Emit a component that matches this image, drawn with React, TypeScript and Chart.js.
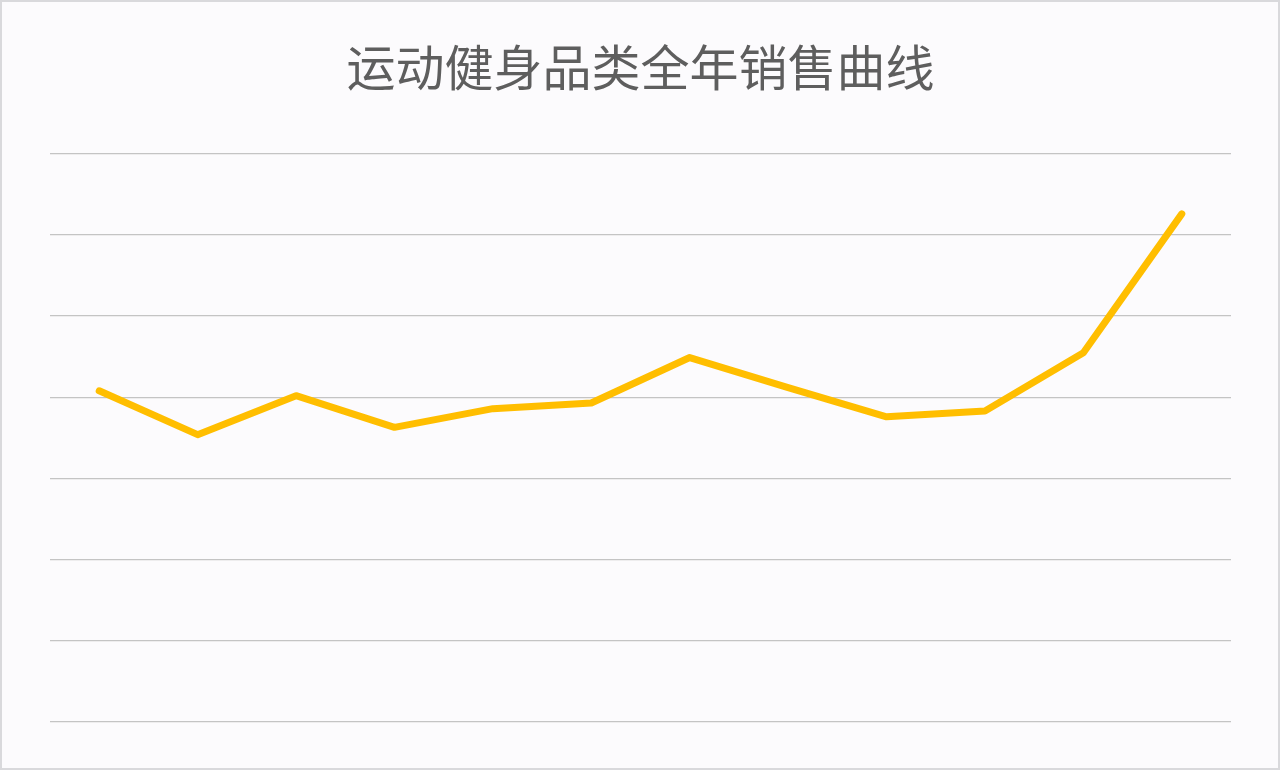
import { useEffect, useRef } from "react"
import { Chart, registerables } from "chart.js"

Chart.register(...registerables)

// months (not shown on the chart, but one point each)
const months = ["1月", "2月", "3月", "4月", "5月", "6月", "7月", "8月", "9月", "10月", "11月", "12月"]
// sales values
const sales = [4.08, 3.54, 4.02, 3.63, 3.86, 3.93, 4.49, 4.12, 3.76, 3.83, 4.55, 6.26]
const yMin = 0
const yMax = 7

export default function App() {
  const chartRef = useRef<HTMLCanvasElement>(null)
  const chartInstance = useRef<Chart | null>(null)

  useEffect(() => {
    if (!chartRef.current) return
    if (chartInstance.current) chartInstance.current.destroy()

    const ctx = chartRef.current.getContext("2d")
    if (!ctx) return

    chartInstance.current = new Chart(ctx, {
      type: "line",
      data: {
        labels: months,
        datasets: [
          {
            label: "销售",
            data: sales,
            borderColor: "#FFBE00",
            borderWidth: 7,
            borderCapStyle: "round",
            borderJoinStyle: "round",
            pointRadius: 0,
            fill: false,
            tension: 0,
          },
        ],
      },
      options: {
        responsive: true,
        maintainAspectRatio: false,
        animation: false,
        layout: {
          padding: { top: 0, left: 48, right: 47, bottom: 46 },
        },
        scales: {
          x: {
            display: false,
            offset: true,
          },
          y: {
            min: yMin,
            max: yMax,
            ticks: { display: false, stepSize: 1 },
            border: { display: false },
            grid: {
              color: "#c4c4c4",
              lineWidth: 1.3,
              drawTicks: false,
            },
          },
        },
        plugins: {
          legend: { display: false },
          tooltip: { enabled: false },
          title: {
            display: true,
            text: "运动健身品类全年销售曲线",
            color: "#5e5e5e",
            font: {
              family: "'Noto Sans CJK SC', 'Noto Sans', sans-serif",
              size: 49,
              weight: "normal",
            },
            padding: { top: 36, bottom: 57 },
          },
        },
      },
    })

    return () => {
      if (chartInstance.current) {
        chartInstance.current.destroy()
        chartInstance.current = null
      }
    }
  }, [])

  return (
    <div
      style={{
        position: "absolute",
        top: 0,
        left: 0,
        width: 1280,
        height: 770,
        boxSizing: "border-box",
        border: "2px solid #d9d9dc",
        background: "#fcfbfd",
      }}
    >
      <div style={{ position: "relative", width: "100%", height: "100%" }}>
        <canvas ref={chartRef}></canvas>
      </div>
    </div>
  )
}
